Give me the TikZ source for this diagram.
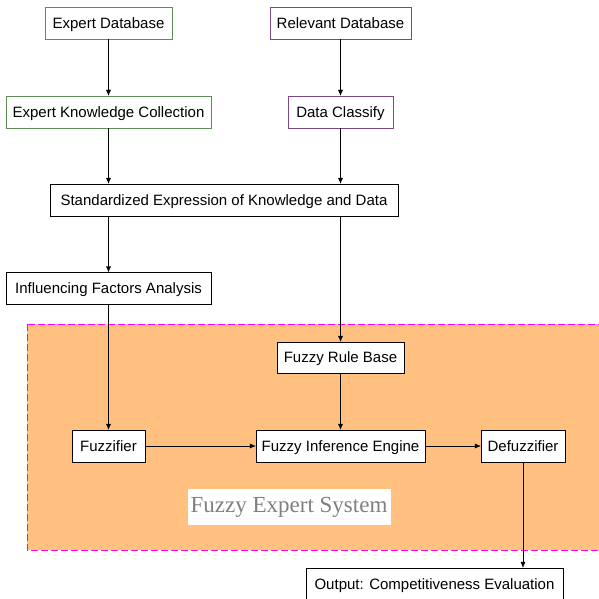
\documentclass[tikz,border=0pt]{standalone}
\usepackage{fontspec}
\setmainfont{Liberation Sans}
\newfontfamily\labelfont{Liberation Serif}
\usetikzlibrary{arrows.meta}
\definecolor{dbgreen}{RGB}{96,140,90}
\definecolor{dbpurple}{RGB}{128,70,140}
\definecolor{fesorange}{RGB}{255,192,128}
\definecolor{fesdash}{RGB}{255,0,255}
\begin{document}
\begin{tikzpicture}[x=1pt,y=-1pt,
  box/.style={draw=black,fill=white,minimum height=32pt,inner sep=0pt,
    text height=10.8pt,text depth=0pt,font=\fontsize{15}{15}\selectfont},
  greenbox/.style={box,draw=dbgreen},
  purplebox/.style={box,draw=dbpurple},
  flow/.style={-{Latex[length=6pt,width=5pt]},thin}]
  \useasboundingbox (0,0) rectangle (599,599);
  % fuzzy expert system area
  \draw [fill=fesorange,draw=fesdash,dash pattern=on 7pt off 3pt]
    (27,324) rectangle (610,550);
  \node [fill=white,minimum width=203pt,minimum height=36pt,inner sep=0pt,
    text=black!50,font=\labelfont\fontsize{23}{23}\selectfont] (fes) at (289,507)
    {Fuzzy Expert System};
  % data sources
  \node [greenbox,minimum width=127pt] (expdb) at (108.5,23) {Expert Database};
  \node [purplebox,minimum width=141pt] (reldb) at (340.5,23) {Relevant Database};
  \node [greenbox,minimum width=205pt] (ekc) at (108.5,112) {Expert Knowledge Collection};
  \node [purplebox,minimum width=105pt] (classify) at (340.5,112) {Data Classify};
  \node [box,minimum width=348pt] (std) at (224,200) {Standardized Expression of Knowledge and Data};
  \node [box,minimum width=205pt] (ifa) at (108.5,288.5) {Influencing Factors Analysis};
  % fuzzy system
  \node [box,minimum width=127pt,minimum height=31pt] (rules) at (340.5,357.5) {Fuzzy Rule Base};
  \node [box,minimum width=73pt] (fuzz) at (108.5,446) {Fuzzifier};
  \node [box,minimum width=169pt] (engine) at (340.5,446) {Fuzzy Inference Engine};
  \node [box,minimum width=84pt] (defuzz) at (523,446) {Defuzzifier};
  \node [box,minimum width=257pt] (output) at (434.5,584) {Output: Competitiveness Evaluation};
  % connectors
  \draw [flow] (expdb) -- (ekc);
  \draw [flow] (reldb) -- (classify);
  \draw [flow] (ekc) -- (ekc |- std.north);
  \draw [flow] (classify) -- (classify |- std.north);
  \draw [flow] (ekc |- std.south) -- (ifa);
  \draw [flow] (classify |- std.south) -- (rules);
  \draw [flow] (ifa) -- (fuzz);
  \draw [flow] (rules) -- (engine);
  \draw [flow] (fuzz) -- (engine);
  \draw [flow] (engine) -- (defuzz);
  \draw [flow] (defuzz.south) -- (defuzz.south |- output.north);
\end{tikzpicture}
\end{document}
